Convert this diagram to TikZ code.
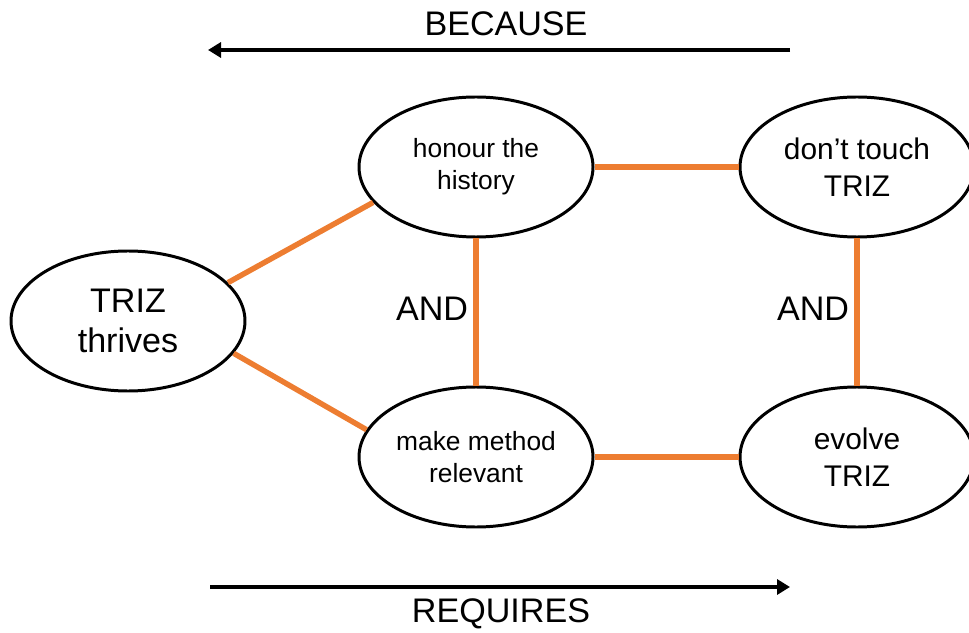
\documentclass[tikz,border=0pt]{standalone}
\usepackage{fontspec}
\setmainfont{Liberation Sans}
\usetikzlibrary{arrows.meta, shapes.geometric}
\definecolor{LinkOrange}{RGB}{237,125,49}

\begin{document}
\begin{tikzpicture}[
    bubble/.style={ellipse, draw=black, line width=1.7pt, minimum width=4.68cm,
                   minimum height=2.8cm, inner sep=0pt, align=center},
    link/.style={LinkOrange, line width=3.1pt},
    flow/.style={black, line width=2.6pt, -{Triangle[length=0.26cm, width=0.3cm]}},
    bigtext/.style={font=\fontsize{19.4}{23.2}\selectfont},
    midtext/.style={font=\fontsize{17}{21}\selectfont},
    smalltext/.style={font=\fontsize{15}{18}\selectfont}
]
\useasboundingbox (0,0) rectangle (19.38,12.64);

% --- objetivos ---
\node[bubble, bigtext] (thrives) at (2.56,6.22) {TRIZ\\thrives};
\node[bubble, smalltext] (honour) at (9.52,9.30) {honour the\\history};
\node[bubble, smalltext] (make) at (9.52,3.50) {make method\\relevant};
\node[bubble, midtext] (dont) at (17.14,9.30) {don’t touch\\TRIZ};
\node[bubble, midtext] (evolve) at (17.14,3.50) {evolve\\TRIZ};

% --- enlaces ---
\draw[link] (thrives.21) -- (honour.199);
\draw[link] (thrives.-17) -- (make.166);
\draw[link] (honour.east) -- (dont.west);
\draw[link] (make.east) -- (evolve.west);
\draw[link] (honour.south) -- node[pos=0.48, left, inner sep=3pt, bigtext, text=black] (andL) {AND} (make.north);
\draw[link] (dont.south) -- node[pos=0.48, left, inner sep=3pt, bigtext, text=black] (andR) {AND} (evolve.north);

% --- flechas de lectura ---
\coordinate (becStart) at (15.8,11.64);
\coordinate (becEnd) at (4.16,11.64);
\draw[flow] (becStart) -- (becEnd);
\node[bigtext] (because) at (10.12,12.16) {BECAUSE};

\coordinate (reqStart) at (4.2,0.90);
\coordinate (reqEnd) at (15.8,0.90);
\draw[flow] (reqStart) -- (reqEnd);
\node[bigtext] (requires) at (10.02,0.36) {REQUIRES};

\end{tikzpicture}
\end{document}
